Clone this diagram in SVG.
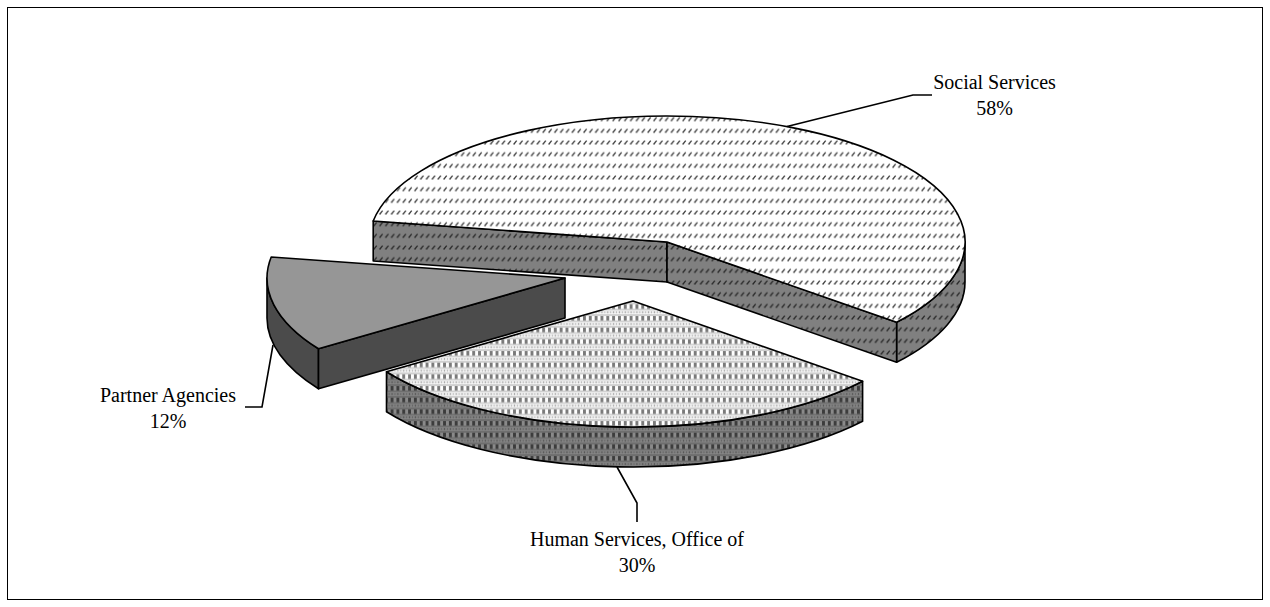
<svg xmlns="http://www.w3.org/2000/svg" width="1270" height="607" viewBox="0 0 1270 607">
  <style>
    .edge { stroke: #000; stroke-width: 1.6; stroke-linejoin: round; }
    .lead { fill: none; stroke: #000; stroke-width: 1.6; }
    .lbl { font-family: "Liberation Serif", "Times New Roman", serif; font-size: 20px; fill: #000; text-anchor: middle; }
  </style>
  <defs>
    <!-- dashed upward diagonal, light top face -->
    <pattern id="dashTop" patternUnits="userSpaceOnUse" width="5.83" height="11.67">
      <rect width="5.83" height="11.67" fill="#ffffff"/>
      <line x1="0.6" y1="4.4" x2="3.6" y2="0.6" stroke="#3a3a3a" stroke-width="1.3"/>
    </pattern>
    <!-- dashed upward diagonal, shaded side face -->
    <pattern id="dashSide" patternUnits="userSpaceOnUse" width="5.83" height="11.67">
      <rect width="5.83" height="11.67" fill="#808080"/>
      <line x1="0.6" y1="4.4" x2="3.6" y2="0.6" stroke="#262626" stroke-width="1.3"/>
    </pattern>
    <!-- checker weave, light top face -->
    <pattern id="checkTop" patternUnits="userSpaceOnUse" width="5.83" height="11.67">
      <rect width="5.83" height="11.67" fill="#cfcfcf"/>
      <rect x="0" y="1" width="2.9" height="4.4" fill="#7a7a7a"/>
      <rect x="2.9" y="1" width="2.93" height="4.4" fill="#ffffff"/>
      <rect x="0" y="7.2" width="5.83" height="3.4" fill="#ffffff"/>
      <rect x="0.7" y="7.9" width="1.5" height="2" fill="#a8a8a8"/>
      <rect x="3.6" y="7.9" width="1.5" height="2" fill="#bcbcbc"/>
    </pattern>
    <!-- checker weave, shaded side face -->
    <pattern id="checkSide" patternUnits="userSpaceOnUse" width="5.83" height="11.67">
      <rect width="5.83" height="11.67" fill="#6e6e6e"/>
      <rect x="0" y="1" width="2.9" height="4.4" fill="#3c3c3c"/>
      <rect x="2.9" y="1" width="2.93" height="4.4" fill="#8a8a8a"/>
      <rect x="0" y="7.2" width="5.83" height="3.4" fill="#8a8a8a"/>
      <rect x="0.7" y="7.9" width="1.5" height="2" fill="#555555"/>
      <rect x="3.6" y="7.9" width="1.5" height="2" fill="#666666"/>
    </pattern>
  </defs>

  <rect x="0" y="0" width="1270" height="607" fill="#ffffff"/>
  <rect x="7.5" y="7.5" width="1255" height="592" fill="none" stroke="#000" stroke-width="1"/>

  <!-- Social Services slice (58%) -->
  <g id="slice-social">
    <path class="edge" fill="url(#dashSide)" d="M 965,242 A 298 126 0 0 1 896.6,322.3 L 896.6,362.3 A 298 126 0 0 0 965,282 Z"/>
    <path class="edge" fill="url(#dashSide)" d="M 373.2,221 L 667,242 L 667,282 L 373.2,261 Z"/>
    <path class="edge" fill="url(#dashSide)" d="M 667,242 L 896.6,322.3 L 896.6,362.3 L 667,282 Z"/>
    <path class="edge" fill="url(#dashTop)" d="M 667,242 L 373.2,221 A 298 126 0 1 1 896.6,322.3 Z"/>
  </g>

  <!-- Human Services, Office of slice (30%) -->
  <g id="slice-human">
    <path class="edge" fill="url(#checkSide)" d="M 862.6,381.3 A 298 126 0 0 1 386.5,371.8 L 386.5,411.8 A 298 126 0 0 0 862.6,421.3 Z"/>
    <path class="edge" fill="url(#checkTop)" d="M 633,301 L 862.6,381.3 A 298 126 0 0 1 386.5,371.8 Z"/>
  </g>

  <!-- Partner Agencies slice (12%) -->
  <g id="slice-partner">
    <path class="edge" fill="#4b4b4b" d="M 318.5,348.8 A 298 126 0 0 1 267,278 L 267,318 A 298 126 0 0 0 318.5,388.8 Z"/>
    <path class="edge" fill="#4b4b4b" d="M 565,278 L 318.5,348.8 L 318.5,388.8 L 565,318 Z"/>
    <path class="edge" fill="#969696" d="M 565,278 L 318.5,348.8 A 298 126 0 0 1 271.2,257 Z"/>
  </g>

  <!-- leader lines -->
  <g id="connectors">
    <polyline class="lead" points="787,126.5 913,95 932,95"/>
    <polyline class="lead" points="617,467 637,503 637,522"/>
    <polyline class="lead" points="273,345 262,407 245,407"/>
  </g>

  <g id="label-social">
    <text class="lbl" x="994.5" y="89">Social Services</text>
    <text class="lbl" x="994.5" y="115">58%</text>
  </g>
  <g id="label-human">
    <text class="lbl" x="637" y="546">Human Services, Office of</text>
    <text class="lbl" x="637" y="572">30%</text>
  </g>
  <g id="label-partner">
    <text class="lbl" x="168" y="402">Partner Agencies</text>
    <text class="lbl" x="168" y="428">12%</text>
  </g>
</svg>
